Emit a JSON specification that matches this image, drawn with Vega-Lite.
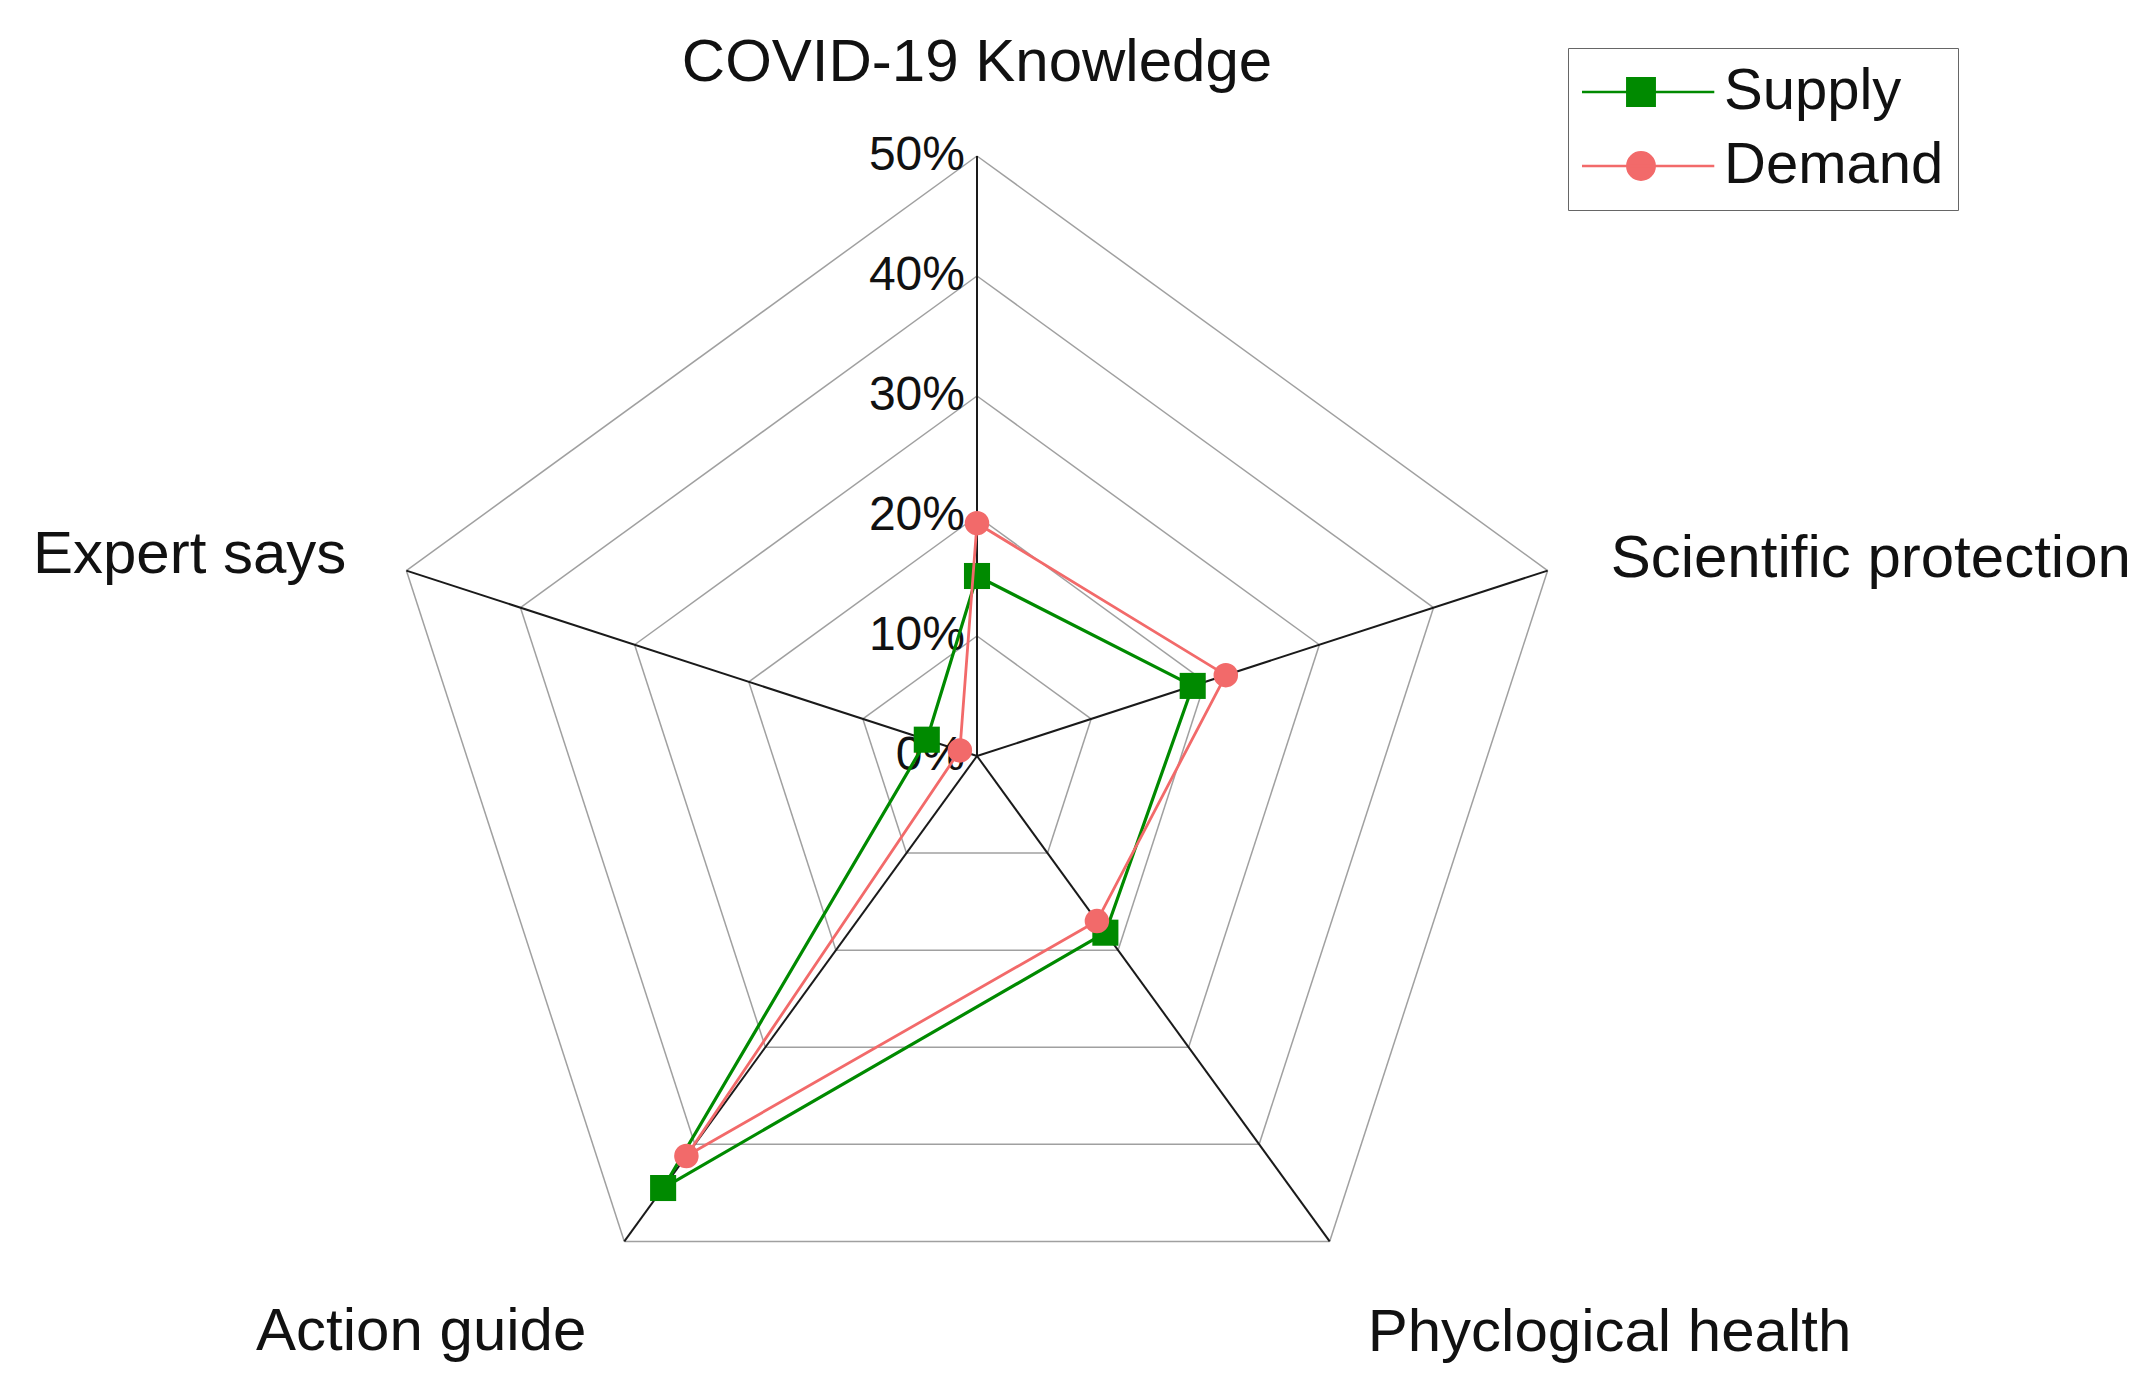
{
  "$schema": "https://vega.github.io/schema/vega-lite/v6.json",
  "width": 2151,
  "height": 1389,
  "autosize": {"type": "none"},
  "padding": 0,
  "background": "white",
  "config": {"view": {"stroke": null}, "font": "Liberation Sans"},
  "datasets": {
    "cats": [
      {"cat": "COVID-19 Knowledge", "k": 0},
      {"cat": "Scientific protection", "k": 1},
      {"cat": "Phyclogical health", "k": 2},
      {"cat": "Action guide", "k": 3},
      {"cat": "Expert says", "k": 4}
    ],
    "vals": [
      {"series": "Supply", "cat": "COVID-19 Knowledge", "k": 0, "value": 15.0},
      {"series": "Supply", "cat": "Scientific protection", "k": 1, "value": 18.9},
      {"series": "Supply", "cat": "Phyclogical health", "k": 2, "value": 18.2},
      {"series": "Supply", "cat": "Action guide", "k": 3, "value": 44.5},
      {"series": "Supply", "cat": "Expert says", "k": 4, "value": 4.4},
      {"series": "Demand", "cat": "COVID-19 Knowledge", "k": 0, "value": 19.4},
      {"series": "Demand", "cat": "Scientific protection", "k": 1, "value": 21.8},
      {"series": "Demand", "cat": "Phyclogical health", "k": 2, "value": 17.0},
      {"series": "Demand", "cat": "Action guide", "k": 3, "value": 41.2},
      {"series": "Demand", "cat": "Expert says", "k": 4, "value": 1.5}
    ],
    "grid": [
      {"level": 10, "k": 0}, {"level": 10, "k": 1}, {"level": 10, "k": 2}, {"level": 10, "k": 3}, {"level": 10, "k": 4},
      {"level": 20, "k": 0}, {"level": 20, "k": 1}, {"level": 20, "k": 2}, {"level": 20, "k": 3}, {"level": 20, "k": 4},
      {"level": 30, "k": 0}, {"level": 30, "k": 1}, {"level": 30, "k": 2}, {"level": 30, "k": 3}, {"level": 30, "k": 4},
      {"level": 40, "k": 0}, {"level": 40, "k": 1}, {"level": 40, "k": 2}, {"level": 40, "k": 3}, {"level": 40, "k": 4},
      {"level": 50, "k": 0}, {"level": 50, "k": 1}, {"level": 50, "k": 2}, {"level": 50, "k": 3}, {"level": 50, "k": 4}
    ],
    "ticks": [
      {"level": 0, "label": "0%"},
      {"level": 10, "label": "10%"},
      {"level": 20, "label": "20%"},
      {"level": 30, "label": "30%"},
      {"level": 40, "label": "40%"},
      {"level": 50, "label": "50%"}
    ]
  },
  "encoding": {
    "x": {"field": "x", "type": "quantitative", "scale": {"domain": [-81.4167, 97.8333], "nice": false, "zero": false}, "axis": null},
    "y": {"field": "y", "type": "quantitative", "scale": {"domain": [-52.75, 63], "nice": false, "zero": false}, "axis": null}
  },
  "layer": [
    {
      "data": {"name": "grid"},
      "transform": [
        {"calculate": "PI/2 - datum.k*2*PI/5", "as": "a1"},
        {"calculate": "PI/2 - (datum.k+1)*2*PI/5", "as": "a2"},
        {"calculate": "datum.level*cos(datum.a1)", "as": "x"},
        {"calculate": "datum.level*sin(datum.a1)", "as": "y"},
        {"calculate": "datum.level*cos(datum.a2)", "as": "x2"},
        {"calculate": "datum.level*sin(datum.a2)", "as": "y2"}
      ],
      "mark": {"type": "rule", "color": "#a0a0a0", "strokeWidth": 1.5},
      "encoding": {"x2": {"field": "x2"}, "y2": {"field": "y2"}}
    },
    {
      "data": {"name": "grid"},
      "transform": [
        {"filter": "datum.level == 50"},
        {"calculate": "PI/2 - datum.k*2*PI/5", "as": "a1"},
        {"calculate": "datum.level*cos(datum.a1)", "as": "x"},
        {"calculate": "datum.level*sin(datum.a1)", "as": "y"},
        {"calculate": "0", "as": "x0"},
        {"calculate": "0", "as": "y0"}
      ],
      "mark": {"type": "rule", "color": "#1a1a1a", "strokeWidth": 2},
      "encoding": {"x2": {"field": "x0"}, "y2": {"field": "y0"}}
    },
    {
      "data": {"name": "ticks"},
      "transform": [
        {"calculate": "0", "as": "x"},
        {"calculate": "datum.level", "as": "y"}
      ],
      "mark": {"type": "text", "align": "right", "baseline": "middle", "dx": -12, "fontSize": 48, "font": "Liberation Sans", "color": "#111111"},
      "encoding": {"text": {"field": "label"}}
    },
    {
      "data": {"name": "grid"},
      "transform": [
        {"filter": "datum.level == 50 && datum.k == 0"},
        {"lookup": "k", "from": {"data": {"name": "cats"}, "key": "k", "fields": ["cat"]}},
        {"calculate": "PI/2 - datum.k*2*PI/5", "as": "a1"},
        {"calculate": "datum.level*cos(datum.a1)", "as": "x"},
        {"calculate": "datum.level*sin(datum.a1)", "as": "y"}
      ],
      "mark": {"type": "text", "align": "center", "baseline": "alphabetic", "dy": -75, "fontSize": 60, "font": "Liberation Sans", "color": "#111111"},
      "encoding": {"text": {"field": "cat"}}
    },
    {
      "data": {"name": "grid"},
      "transform": [
        {"filter": "datum.level == 50 && datum.k == 1"},
        {"lookup": "k", "from": {"data": {"name": "cats"}, "key": "k", "fields": ["cat"]}},
        {"calculate": "PI/2 - datum.k*2*PI/5", "as": "a1"},
        {"calculate": "datum.level*cos(datum.a1)", "as": "x"},
        {"calculate": "datum.level*sin(datum.a1)", "as": "y"}
      ],
      "mark": {"type": "text", "align": "left", "baseline": "alphabetic", "dx": 63, "dy": 6, "fontSize": 60, "font": "Liberation Sans", "color": "#111111"},
      "encoding": {"text": {"field": "cat"}}
    },
    {
      "data": {"name": "grid"},
      "transform": [
        {"filter": "datum.level == 50 && datum.k == 2"},
        {"lookup": "k", "from": {"data": {"name": "cats"}, "key": "k", "fields": ["cat"]}},
        {"calculate": "PI/2 - datum.k*2*PI/5", "as": "a1"},
        {"calculate": "datum.level*cos(datum.a1)", "as": "x"},
        {"calculate": "datum.level*sin(datum.a1)", "as": "y"}
      ],
      "mark": {"type": "text", "align": "left", "baseline": "alphabetic", "dx": 38, "dy": 110, "fontSize": 60, "font": "Liberation Sans", "color": "#111111"},
      "encoding": {"text": {"field": "cat"}}
    },
    {
      "data": {"name": "grid"},
      "transform": [
        {"filter": "datum.level == 50 && datum.k == 3"},
        {"lookup": "k", "from": {"data": {"name": "cats"}, "key": "k", "fields": ["cat"]}},
        {"calculate": "PI/2 - datum.k*2*PI/5", "as": "a1"},
        {"calculate": "datum.level*cos(datum.a1)", "as": "x"},
        {"calculate": "datum.level*sin(datum.a1)", "as": "y"}
      ],
      "mark": {"type": "text", "align": "right", "baseline": "alphabetic", "dx": -38, "dy": 109, "fontSize": 60, "font": "Liberation Sans", "color": "#111111"},
      "encoding": {"text": {"field": "cat"}}
    },
    {
      "data": {"name": "grid"},
      "transform": [
        {"filter": "datum.level == 50 && datum.k == 4"},
        {"lookup": "k", "from": {"data": {"name": "cats"}, "key": "k", "fields": ["cat"]}},
        {"calculate": "PI/2 - datum.k*2*PI/5", "as": "a1"},
        {"calculate": "datum.level*cos(datum.a1)", "as": "x"},
        {"calculate": "datum.level*sin(datum.a1)", "as": "y"}
      ],
      "mark": {"type": "text", "align": "right", "baseline": "alphabetic", "dx": -60, "dy": 2, "fontSize": 60, "font": "Liberation Sans", "color": "#111111"},
      "encoding": {"text": {"field": "cat"}}
    },
    {
      "data": {"name": "vals"},
      "transform": [
        {"filter": "datum.series == 'Supply'"},
        {"window": [{"op": "lead", "field": "value", "as": "nv"}, {"op": "first_value", "field": "value", "as": "fv"}], "sort": [{"field": "k"}], "groupby": ["series"], "frame": [null, null]},
        {"calculate": "isValid(datum.nv) ? datum.nv : datum.fv", "as": "nv2"},
        {"calculate": "PI/2 - datum.k*2*PI/5", "as": "a1"},
        {"calculate": "PI/2 - (datum.k+1)*2*PI/5", "as": "a2"},
        {"calculate": "datum.value*cos(datum.a1)", "as": "x"},
        {"calculate": "datum.value*sin(datum.a1)", "as": "y"},
        {"calculate": "datum.nv2*cos(datum.a2)", "as": "x2"},
        {"calculate": "datum.nv2*sin(datum.a2)", "as": "y2"}
      ],
      "mark": {"type": "rule", "color": "#008a00", "strokeWidth": 3.2, "strokeCap": "round"},
      "encoding": {"x2": {"field": "x2"}, "y2": {"field": "y2"}}
    },
    {
      "data": {"name": "vals"},
      "transform": [
        {"filter": "datum.series == 'Supply'"},
        {"calculate": "PI/2 - datum.k*2*PI/5", "as": "a1"},
        {"calculate": "datum.value*cos(datum.a1)", "as": "x"},
        {"calculate": "datum.value*sin(datum.a1)", "as": "y"}
      ],
      "mark": {"type": "point", "shape": "square", "filled": true, "size": 680, "color": "#008a00", "opacity": 1}
    },
    {
      "data": {"name": "vals"},
      "transform": [
        {"filter": "datum.series == 'Demand'"},
        {"window": [{"op": "lead", "field": "value", "as": "nv"}, {"op": "first_value", "field": "value", "as": "fv"}], "sort": [{"field": "k"}], "groupby": ["series"], "frame": [null, null]},
        {"calculate": "isValid(datum.nv) ? datum.nv : datum.fv", "as": "nv2"},
        {"calculate": "PI/2 - datum.k*2*PI/5", "as": "a1"},
        {"calculate": "PI/2 - (datum.k+1)*2*PI/5", "as": "a2"},
        {"calculate": "datum.value*cos(datum.a1)", "as": "x"},
        {"calculate": "datum.value*sin(datum.a1)", "as": "y"},
        {"calculate": "datum.nv2*cos(datum.a2)", "as": "x2"},
        {"calculate": "datum.nv2*sin(datum.a2)", "as": "y2"}
      ],
      "mark": {"type": "rule", "color": "#f26a6a", "strokeWidth": 2.8, "strokeCap": "round"},
      "encoding": {"x2": {"field": "x2"}, "y2": {"field": "y2"}}
    },
    {
      "data": {"name": "vals"},
      "transform": [
        {"filter": "datum.series == 'Demand'"},
        {"calculate": "PI/2 - datum.k*2*PI/5", "as": "a1"},
        {"calculate": "datum.value*cos(datum.a1)", "as": "x"},
        {"calculate": "datum.value*sin(datum.a1)", "as": "y"}
      ],
      "mark": {"type": "point", "shape": "circle", "filled": true, "size": 600, "color": "#f26a6a", "opacity": 1}
    },
    {
      "data": {"name": "vals"},
      "transform": [
        {"filter": "datum.value < 0"},
        {"calculate": "0", "as": "x"},
        {"calculate": "0", "as": "y"}
      ],
      "mark": {"type": "point", "filled": true, "strokeWidth": 2.5, "opacity": 1},
      "encoding": {
        "fill": {"field": "series", "type": "nominal", "scale": {"domain": ["Supply", "Demand"], "range": ["#008a00", "#f26a6a"]},
          "legend": {"title": null, "orient": "none", "legendX": 1568, "legendY": 48, "symbolSize": 18769, "clipHeight": 60, "labelFontSize": 58, "labelFont": "Liberation Sans", "labelColor": "#111111", "labelOffset": 13, "labelLimit": 600, "padding": 14, "rowPadding": 14, "strokeColor": "#666666", "symbolStrokeWidth": 2.5, "symbolOpacity": 1, "symbolOffset": -11, "labelBaseline": "middle"}},
        "stroke": {"field": "series", "type": "nominal", "scale": {"domain": ["Supply", "Demand"], "range": ["#008a00", "#f26a6a"]},
          "legend": {"title": null, "orient": "none", "legendX": 1568, "legendY": 48, "symbolSize": 18769, "clipHeight": 60, "labelFontSize": 58, "labelFont": "Liberation Sans", "labelColor": "#111111", "labelOffset": 13, "labelLimit": 600, "padding": 14, "rowPadding": 14, "strokeColor": "#666666", "symbolStrokeWidth": 2.5, "symbolOpacity": 1, "symbolOffset": -11, "labelBaseline": "middle"}},
        "shape": {"field": "series", "type": "nominal", "scale": {"domain": ["Supply", "Demand"], "range": ["M-1.07,0H1.07M-0.2,-0.2H0.2V0.2H-0.2Z", "M-1.07,0H1.07M0.2,0A0.2,0.2,0,1,1,-0.2,0A0.2,0.2,0,1,1,0.2,0Z"]},
          "legend": {"title": null, "orient": "none", "legendX": 1568, "legendY": 48, "symbolSize": 18769, "clipHeight": 60, "labelFontSize": 58, "labelFont": "Liberation Sans", "labelColor": "#111111", "labelOffset": 13, "labelLimit": 600, "padding": 14, "rowPadding": 14, "strokeColor": "#666666", "symbolStrokeWidth": 2.5, "symbolOpacity": 1, "symbolOffset": -11, "labelBaseline": "middle"}}
      }
    }
  ]
}
